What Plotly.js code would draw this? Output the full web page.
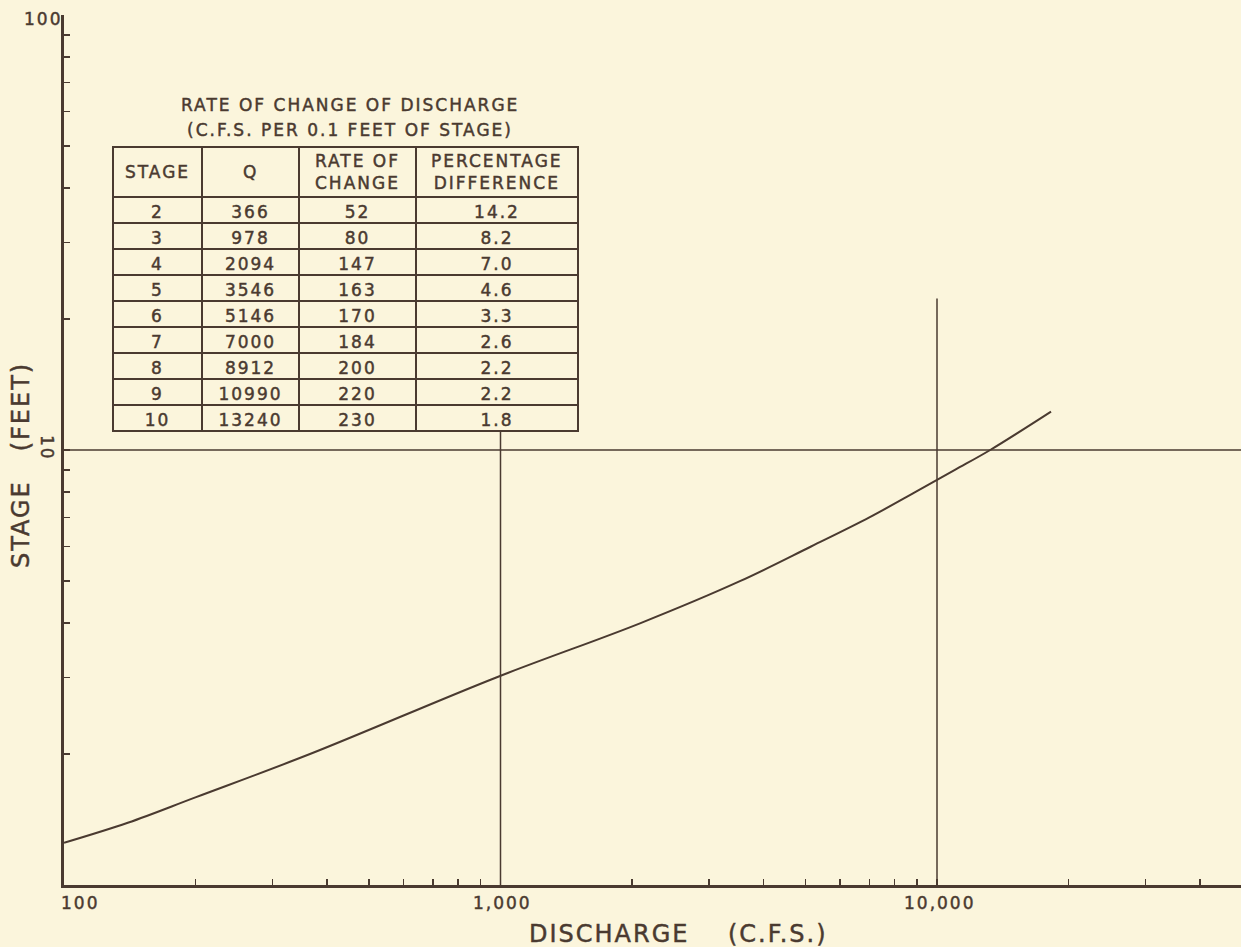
<!DOCTYPE html>
<html>
<head>
<meta charset="utf-8">
<script src="https://cdn.plot.ly/plotly-3.0.1.min.js"></script>
<style>
  html, body { margin: 0; padding: 0; background: #fbf5dc; }
  #chart { width: 1241px; height: 947px; }
  .main-svg text { letter-spacing: 2px; white-space: pre; stroke: #4a3a30; stroke-width: 0.45px; }
</style>
</head>
<body>
<div id="chart"></div>
<script>
// ---- rating table ----
const stage = [2, 3, 4, 5, 6, 7, 8, 9, 10];
const discharge = [366, 978, 2094, 3546, 5146, 7000, 8912, 10990, 13240];
const rateOfChange = [52, 80, 147, 163, 170, 184, 200, 220, 230];
const percentDiff = [14.2, 8.2, 7.0, 4.6, 3.3, 2.6, 2.2, 2.2, 1.8];
const tableHeaders = ['STAGE', 'Q', 'RATE OF<br>CHANGE', 'PERCENTAGE<br>DIFFERENCE'];
const tableTitle = ['RATE OF CHANGE OF DISCHARGE', '(C.F.S. PER 0.1 FEET OF STAGE)'];

// ---- rating curve beyond the tabulated stages ----
const curveLowQ = [100, 140, 200];
const curveLowStage = [1.25, 1.39, 1.59];
const curveHighQ = [18250];
const curveHighStage = [12.25];

// ---- reference lines ----
const guideQ = [1000, 10000];
const guideQTop = 22.3;
const guideStage = [10];

// ---- axis labels ----
const xLabelVals = [100, 1000, 10000];
const xLabelText = ['100', '1,000', '10,000'];
const yLabelVals = [10, 100];
const yLabelText = ['10', '100'];
const xTitle = 'DISCHARGE    (C.F.S.)';
const yTitle = 'STAGE   (FEET)';

// ---- styling / geometry ----
const INK = '#4a3a30';
const BG = '#fbf5dc';
const FONT = 'DejaVu Sans';
const W = 1241, H = 947;
const M = { l: 64, r: 0, t: 15, b: 62 };
const plotW = W - M.l - M.r;
const plotH = H - M.t - M.b;
const decadeX = 436.5;              // pixels per decade of discharge
const xRange = [2, 2 + plotW / decadeX];
const yRange = [0, 2];

const fx = px => (px - M.l) / plotW;
const fy = py => 1 - (py - M.t) / plotH;

// table block
const tblLeft = 113, tblTop = 147;
const colW = [89, 97, 117, 162];
const headerH = 50, rowH = 26;
const tblW = colW.reduce((a, b) => a + b, 0);
const tblH = headerH + rowH * stage.length;

// tick positions 1..9 per decade
function logTicks(e0, e1, maxVal) {
  const v = [];
  for (let e = e0; e <= e1; e++) {
    for (let m = 1; m <= 9; m++) {
      const t = m * Math.pow(10, e);
      if (t <= maxVal) v.push(t);
    }
  }
  return v;
}

const curve = {
  type: 'scatter',
  mode: 'lines',
  x: curveLowQ.concat(discharge, curveHighQ),
  y: curveLowStage.concat(stage, curveHighStage),
  line: { color: INK, width: 2, shape: 'spline', smoothing: 1 },
  hoverinfo: 'skip',
  showlegend: false
};

const table = {
  type: 'table',
  domain: { x: [fx(tblLeft), fx(tblLeft + tblW)], y: [fy(tblTop + tblH + 3), fy(tblTop)] },
  columnwidth: colW,
  header: {
    values: tableHeaders.map(() => ''),
    height: headerH,
    fill: { color: BG },
    line: { color: INK, width: 1.5 }
  },
  cells: {
    values: [stage, discharge, rateOfChange, percentDiff],
    format: ['', '', '', '.1f'],
    height: rowH,
    align: 'center',
    fill: { color: BG },
    line: { color: INK, width: 1.5 },
    font: { family: FONT, size: 17, color: INK }
  }
};

const shapes = [];
guideQ.forEach(q => shapes.push({
  type: 'line', xref: 'x', yref: 'y', x0: q, x1: q, y0: 1, y1: guideQTop,
  line: { color: INK, width: 1.5 }, layer: 'below'
}));
guideStage.forEach(s => shapes.push({
  type: 'line', xref: 'paper', yref: 'y', x0: 0, x1: 1, y0: s, y1: s,
  line: { color: INK, width: 1.5 }, layer: 'below'
}));

const annotations = [];
const txt = (o, size) => Object.assign({
  showarrow: false,
  font: { family: FONT, size: size, color: INK }
}, o);

// discharge tick labels
xLabelVals.forEach((v, i) => annotations.push(txt({
  xref: 'x', yref: 'paper', x: Math.log10(v), y: 0, yshift: -18,
  xanchor: i === 0 ? 'left' : 'center', yanchor: 'middle',
  xshift: i === 0 ? -2 : 2,
  text: xLabelText[i]
}, 17)));

// stage tick labels
yLabelVals.forEach((v, i) => {
  const top = v === 100;
  annotations.push(txt({
    xref: 'paper', yref: 'y', x: 0, y: Math.log10(v),
    xanchor: top ? 'right' : 'center', yanchor: 'middle',
    xshift: top ? -3 : -17, yshift: top ? -4 : 2,
    textangle: top ? 0 : 90,
    text: yLabelText[i]
  }, 17));
});

// axis titles
annotations.push(txt({
  xref: 'paper', yref: 'paper', x: fx(678), y: fy(934),
  xanchor: 'center', yanchor: 'middle', text: xTitle
}, 24));
annotations.push(txt({
  xref: 'paper', yref: 'paper', x: fx(21), y: fy(465),
  xanchor: 'center', yanchor: 'middle', textangle: -90, text: yTitle
}, 24));

// table title
const tblCenter = tblLeft + tblW / 2 + 4;
tableTitle.forEach((t, i) => annotations.push(txt({
  xref: 'paper', yref: 'paper', x: fx(tblCenter), y: fy(105 + 25 * i),
  xanchor: 'center', yanchor: 'middle', text: t
}, 17)));

// header labels centred in their cells
let cx = tblLeft;
tableHeaders.forEach((h, i) => {
  const c = cx + colW[i] / 2;
  cx += colW[i];
  annotations.push(txt({
    xref: 'paper', yref: 'paper', x: fx(c), y: fy(tblTop + headerH / 2),
    xanchor: 'center', yanchor: 'middle', align: 'center', text: h
  }, 17));
});

const layout = {
  width: W, height: H,
  margin: M,
  paper_bgcolor: BG,
  plot_bgcolor: BG,
  showlegend: false,
  xaxis: {
    type: 'log', range: xRange, fixedrange: true,
    showgrid: false, zeroline: false,
    showline: true, linecolor: INK, linewidth: 3,
    ticks: 'inside', ticklen: 6, tickwidth: 1.5, tickcolor: INK,
    tickvals: logTicks(2, 4, Math.pow(10, xRange[1])),
    showticklabels: false, automargin: false
  },
  yaxis: {
    type: 'log', range: yRange, fixedrange: true,
    showgrid: false, zeroline: false,
    showline: true, linecolor: INK, linewidth: 3,
    ticks: 'inside', ticklen: 6, tickwidth: 1.5, tickcolor: INK,
    tickvals: logTicks(0, 2, 100),
    showticklabels: false, automargin: false
  },
  shapes: shapes,
  annotations: annotations
};

Plotly.newPlot('chart', [curve, table], layout, { displayModeBar: false, staticPlot: true });
</script>
</body>
</html>
